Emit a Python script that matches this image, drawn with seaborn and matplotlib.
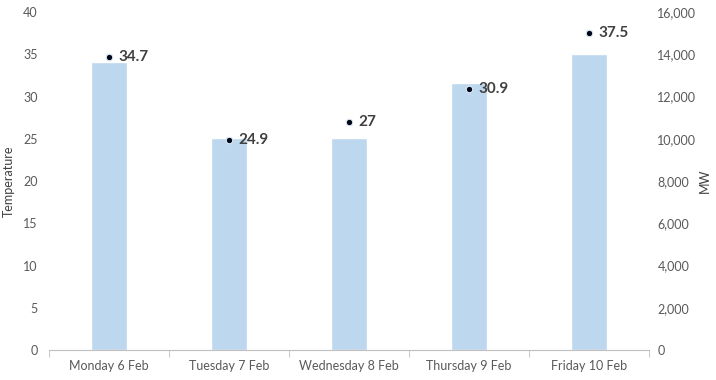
import pandas as pd
import numpy as np
import matplotlib
matplotlib.use("Agg")
import matplotlib.pyplot as plt
import seaborn as sns

# data
days = ["Monday 6 Feb", "Tuesday 7 Feb", "Wednesday 8 Feb", "Thursday 9 Feb", "Friday 10 Feb"]
mw = [13650, 10050, 10050, 12625, 14000]
temperature = [34.7, 24.9, 27, 30.9, 37.5]

df = pd.DataFrame({"day": days, "mw": mw, "temp": temperature})

sns.set_style("white")
plt.rcParams["font.family"] = ["Lato", "DejaVu Sans"]

fig, ax = plt.subplots(figsize=(7.16, 3.8), dpi=100)
fig.subplots_adjust(left=0.0684, right=0.9064, top=0.968, bottom=0.079)
ax2 = ax.twinx()

# bars on the MW axis, dots on the temperature axis (kept on top)
sns.barplot(data=df, x="day", y="mw", color="#BDD7EE", saturation=1, width=0.305, ax=ax2)
sns.scatterplot(data=df, x="day", y="temp", color="#00081A", edgecolor="#DEEBF7",
                linewidth=0.8, s=22, ax=ax, zorder=5)
ax.set_zorder(ax2.get_zorder() + 1)
ax.patch.set_visible(False)

for i, t in enumerate(temperature):
    ax.annotate(f"{t:g}", (i, t), xytext=(7, 0), textcoords="offset points",
                va="center", ha="left", fontsize=11, fontweight="bold", color="#404040")

ax.set_ylim(0, 40)
ax.set_yticks(np.arange(0, 41, 5))
ax2.set_ylim(0, 16000)
ax2.set_yticks(np.arange(0, 16001, 2000))
ax2.set_yticklabels([f"{v:,}" for v in range(0, 16001, 2000)])
ax.set_xlim(-0.5, 4.5)
ax2.set_xlim(-0.5, 4.5)

ax.set_ylabel("Temperature", fontsize=9, color="#404040", labelpad=6)
ax2.set_ylabel("MW", fontsize=9, color="#404040", labelpad=2)
ax.set_xlabel("")
ax2.set_xlabel("")

for a in (ax, ax2):
    for s in a.spines.values():
        s.set_visible(False)
    a.tick_params(axis="y", length=0, labelsize=9, labelcolor="#595959", pad=8)
    a.grid(False)
ax2.tick_params(axis="y", pad=6)

ax.spines["bottom"].set_visible(True)
ax.spines["bottom"].set_color("#BFBFBF")
ax.set_xticks(range(len(days)))
ax.set_xticklabels(days)
ax.set_xticks(np.arange(-0.5, 5, 1), minor=True)
ax.tick_params(axis="x", which="major", length=0, labelsize=9, labelcolor="#595959", pad=7)
ax.tick_params(axis="x", which="minor", length=5, color="#BFBFBF", bottom=True)
ax2.tick_params(axis="x", bottom=False, labelbottom=False)

fig.savefig("out.png", dpi=100)
